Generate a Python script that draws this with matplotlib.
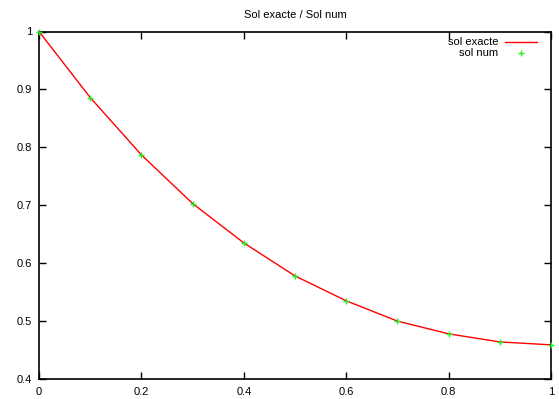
import matplotlib
matplotlib.use("Agg")
import matplotlib.pyplot as plt

x = [0.0, 0.1, 0.2, 0.3, 0.4, 0.5, 0.6, 0.7, 0.8, 0.9, 1.0]
sol_exacte = [1.0, 0.886, 0.787, 0.703, 0.635, 0.578, 0.535, 0.500, 0.478, 0.464, 0.459]
sol_num = [1.0, 0.886, 0.787, 0.703, 0.635, 0.578, 0.535, 0.500, 0.478, 0.464, 0.459]
xticks = [0, 0.2, 0.4, 0.6, 0.8, 1]
xticklabels = ["0", "0.2", "0.4", "0.6", "0.8", "1"]
yticks = [0.4, 0.5, 0.6, 0.7, 0.8, 0.9, 1.0]
yticklabels = ["0.4", "0.5", "0.6", "0.7", "0.8", "0.9", "1"]

plt.rcParams['font.family'] = ['Liberation Sans', 'DejaVu Sans']
W, H = 559, 399
fig = plt.figure(figsize=(W / 100, H / 100), dpi=100)
l, r, t, b = 39, 551, 31.5, 379
ax = fig.add_axes([l / W, 1 - b / H, (r - l) / W, (b - t) / H])

green = '#22ee22'
ax.plot(x, sol_exacte, color='#ff0000', lw=1.0, zorder=2, clip_on=False)
ax.plot(x, sol_num, ls='none', marker='+', color=green, ms=5, mew=1.0,
        zorder=3, clip_on=False)

ax.set_xlim(0, 1)
ax.set_ylim(0.4, 1)
ax.set_xticks(xticks)
ax.set_xticklabels(xticklabels)
ax.set_yticks(yticks)
ax.set_yticklabels(yticklabels)
ax.tick_params(direction='in', length=5, width=1, top=True, right=True,
               labelsize=8, pad=6, colors='black')
ax.tick_params(axis='y', pad=5)
for s in ax.spines.values():
    s.set_linewidth(1.2)
    s.set_color('black')

ax.set_title("Sol exacte / Sol num", fontsize=8, pad=10)

# legend (gnuplot-like, text right-aligned, sample to the right)
ax.text(498 / W, 1 - 42 / H, "sol exacte", transform=fig.transFigure,
        ha='right', va='center', fontsize=8)
ax.plot([505 / W, 537 / W], [1 - 42 / H, 1 - 42 / H], transform=fig.transFigure,
        color='#ff0000', lw=1.0, clip_on=False)
ax.text(498 / W, 1 - 53 / H, "sol num", transform=fig.transFigure,
        ha='right', va='center', fontsize=8)
ax.plot([521 / W], [1 - 53 / H], transform=fig.transFigure, ls='none',
        marker='+', color=green, ms=5, mew=1.0, clip_on=False)

fig.savefig("out.png", dpi=100)
